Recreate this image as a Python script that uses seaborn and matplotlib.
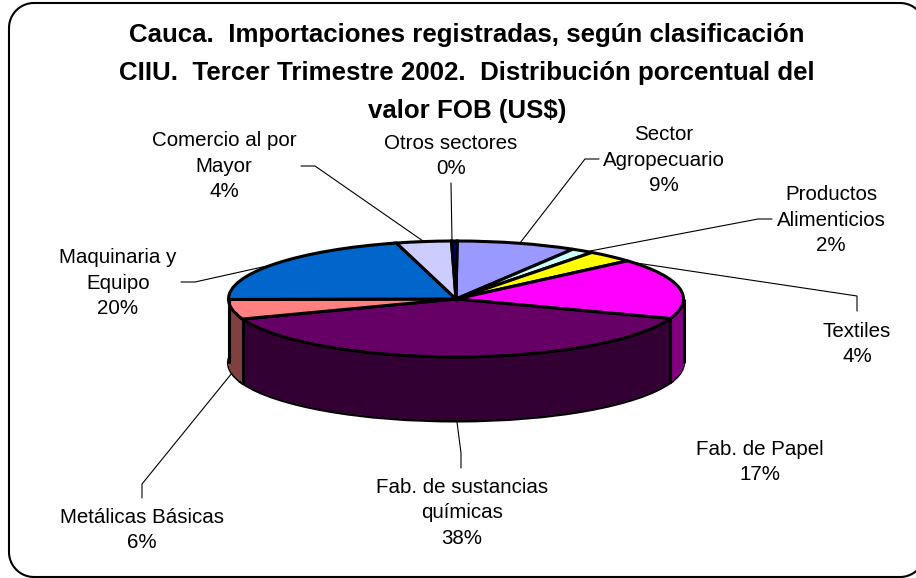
import numpy as np
import matplotlib
matplotlib.use('Agg')
import matplotlib.pyplot as plt
from matplotlib.lines import Line2D
from matplotlib.transforms import Affine2D
import seaborn as sns

W, H = 916, 578

title = ('Cauca.  Importaciones registradas, según clasificación\n'
         'CIIU.  Tercer Trimestre 2002.  Distribución porcentual del\n'
         'valor FOB (US$)')

# slices go clockwise from the top
sectors = ['Agropecuario', 'Alimenticios', 'Textiles', 'Papel', 'Quimicas',
           'Metalicas', 'Maquinaria', 'Comercio', 'Otros']
values = [8.5, 1.6, 3.4, 16.9, 38.9, 5.5, 20.9, 3.9, 0.4]
hex_colors = ['#9999FF', '#CCFFFF', '#FFFF00', '#FF00FF', '#660066',
              '#FF8080', '#0066CC', '#CCCCFF', '#000080']

labels = ['Sector\nAgropecuario\n9%', 'Productos\nAlimenticios\n2%', 'Textiles\n4%',
          'Fab. de Papel\n17%', 'Fab. de sustancias\nquímicas\n38%',
          'Metálicas Básicas\n6%', 'Maquinaria y\nEquipo\n20%',
          'Comercio al por\nMayor\n4%', 'Otros sectores\n0%']
label_x = [664, 831, 857, 760, 462, 142, 118, 224, 451]
label_y = [160, 220, 344, 462, 513, 530, 283, 166, 156]

leaders = [
    [(520, 243), (585, 159), (599, 159)],
    [(590, 251), (758, 219), (772, 219)],
    [(630, 262), (857, 296), (857, 311)],
    [(232, 373), (142, 484), (142, 498)],
    [(457, 422), (461, 453), (461, 468)],
    [(267, 266), (195, 282), (181, 282)],
    [(423, 241), (315, 166), (301, 166)],
    [(452, 241), (451, 183)],
]

# pie geometry in pixels
cx, cy, rx, ry, depth = 456, 299, 227.5, 58, 64


def px_x(x):
    return (np.asarray(x, dtype=float) - cx) / rx


def px_y(y):
    return (cy - np.asarray(y, dtype=float)) / ry


sns.set_theme(style='white')
plt.rcParams['font.family'] = ['Liberation Sans', 'DejaVu Sans']

fig = plt.figure(figsize=(W / 100, H / 100), dpi=100, facecolor='white')
ax = fig.add_axes([0, 0, 1, 1])
ax.axis('off')

palette = sns.color_palette(hex_colors)
dark = [tuple(c * 0.5 for c in col) for col in palette]
start = 90 - 0.3

# side wall: stacked copies of the pie, darker, going down one pixel at a time
ax.pie(values, colors=dark, startangle=start, counterclock=False,
       center=(0, -depth / ry), radius=1,
       wedgeprops={'edgecolor': 'black', 'linewidth': 2.2})
for k in np.arange(depth - 1, 0, -1):
    ax.pie(values, colors=dark, startangle=start, counterclock=False,
           center=(0, -k / ry), radius=1,
           wedgeprops={'linewidth': 0, 'antialiased': False})

# vertical edges of the wall at the slice borders on the front and the two sides
borders = np.radians(np.cumsum(values) / 100 * 360 + 0.3)
for b in borders:
    if np.cos(b) < 0:
        bx = np.sin(b)
        ax.plot([bx, bx], [np.cos(b), np.cos(b) - depth / ry], color='black', lw=2.2,
                solid_capstyle='butt')
for bx in [-1, 1]:
    ax.plot([bx, bx], [0, -depth / ry], color='black', lw=2.2, solid_capstyle='butt')

ax.pie(values, colors=palette, startangle=start, counterclock=False,
       center=(0, 0), radius=1,
       wedgeprops={'edgecolor': 'black', 'linewidth': 2.2, 'joinstyle': 'miter'})

ax.set_aspect('auto')
ax.set_xlim(px_x(0), px_x(W))
ax.set_ylim(px_y(H), px_y(0))

for pts in leaders:
    xs, ys = zip(*pts)
    ax.plot(px_x(xs), px_y(ys), color='black', lw=0.8)

for lab, x, y in zip(labels, label_x, label_y):
    ax.text(x / W, 1 - y / H, lab, transform=fig.transFigure, ha='center', va='center',
            fontsize=14.8, linespacing=1.46, color='black')

fig.text(467 / W, 1 - 73 / H, title, ha='center', va='center', fontsize=18.6,
         fontweight='bold', linespacing=1.72, color='black')

# rounded frame as a polyline in pixels, its right side runs off the canvas
r = 25
left, right, top, bottom = 9, 925, 3, 577
corners = [(right - r, top + r, -90, 0), (right - r, bottom - r, 0, 90),
           (left + r, bottom - r, 90, 180), (left + r, top + r, 180, 270)]
fx, fy = [], []
for ccx, ccy, a0, a1 in corners:
    t = np.radians(np.linspace(a0, a1, 30))
    fx.extend(ccx + r * np.cos(t))
    fy.extend(ccy + r * np.sin(t))
fx.append(fx[0])
fy.append(fy[0])
frame = Line2D(fx, fy, color='black', lw=1.5,
               transform=Affine2D().scale(1, -1).translate(0, H))
fig.add_artist(frame)

fig.savefig('out.png', dpi=100, facecolor='white')
